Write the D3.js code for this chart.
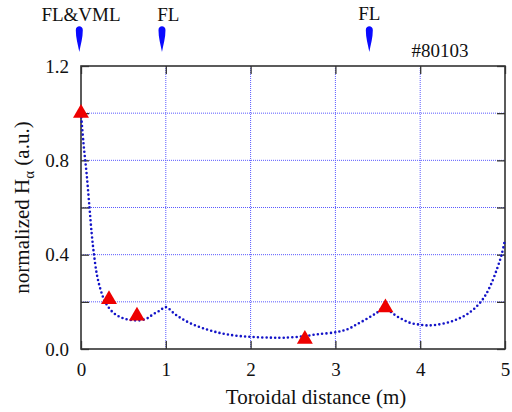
<!DOCTYPE html>
<html lang="en">
<head>
    <meta charset="UTF-8">
    <title>Normalized H-alpha vs toroidal distance</title>
    <style>
        body {
            margin: 0;
            background-color: #fff;
        }
    </style>
</head>
<body>
    <div id="chart"></div>
    <script src="https://d3js.org/d3.v7.min.js"></script>
    <script>
        // profile along the torus
        const curveX = [0, 0.03, 0.067, 0.1, 0.126, 0.15, 0.185, 0.22, 0.26, 0.3, 0.38, 0.46, 0.54, 0.62, 0.7, 0.78,
            0.85, 0.93, 1.0, 1.1, 1.2, 1.32, 1.44, 1.58, 1.72, 1.9, 2.07, 2.25, 2.39, 2.6, 2.78, 3.02, 3.15, 3.25,
            3.38, 3.49, 3.58, 3.65, 3.72, 3.8, 3.88, 3.98, 4.08, 4.2, 4.35, 4.45, 4.55, 4.65, 4.75, 4.83, 4.91, 4.96, 5.0];
        const curveY = [1.0, 0.87, 0.74, 0.6, 0.49, 0.41, 0.32, 0.265, 0.22, 0.19, 0.154, 0.136, 0.126, 0.122, 0.122, 0.13,
            0.147, 0.163, 0.178, 0.15, 0.126, 0.104, 0.088, 0.073, 0.062, 0.054, 0.05, 0.048, 0.048, 0.053, 0.062, 0.072, 0.085, 0.104,
            0.13, 0.154, 0.178, 0.158, 0.14, 0.124, 0.111, 0.104, 0.1, 0.103, 0.115, 0.128, 0.147, 0.175, 0.217, 0.27, 0.344, 0.4, 0.464];

        // measured points (red triangles)
        const measX = [0, 0.33, 0.66, 2.64, 3.59];
        const measY = [1.0, 0.21, 0.14, 0.042, 0.175];

        // markers above the frame
        const markerX = [-0.02, 0.955, 3.4];
        const markerLabelX = [0, 1.03, 3.4];
        const markerLabels = ["FL&VML", "FL", "FL"];

        const xTicks = [0, 1, 2, 3, 4, 5];
        const yTicks = [0, 0.2, 0.4, 0.6, 0.8, 1.0, 1.2];
        const yLabelTicks = [0, 0.4, 0.8, 1.2];
        const shotLabel = "#80103";

        const width = 512, height = 412;
        const margin = { left: 81, right: 7, top: 66, bottom: 63 };
        const serif = "Liberation Serif";

        const svg = d3.select('#chart')
            .append('svg')
            .attr('width', width)
            .attr('height', height)
            .attr('font-family', serif);

        const x = d3.scaleLinear().domain([0, 5]).range([margin.left, width - margin.right]);
        const y = d3.scaleLinear().domain([0, 1.2]).range([height - margin.bottom, margin.top]);

        // grid lines
        const grid = svg.append('g')
            .attr('stroke', '#5a5aff')
            .attr('stroke-width', 1)
            .attr('stroke-dasharray', '1 1');
        grid.selectAll('.gx')
            .data(xTicks.slice(1, -1))
            .enter().append('line')
            .attr('x1', d => x(d)).attr('x2', d => x(d))
            .attr('y1', y(0)).attr('y2', y(1.2));
        grid.selectAll('.gy')
            .data(yTicks.slice(1, -1))
            .enter().append('line')
            .attr('x1', x(0)).attr('x2', x(5))
            .attr('y1', d => y(d)).attr('y2', d => y(d));

        // axes with inward ticks
        const tickLen = 8;
        const axisStyle = g => {
            g.attr('font-family', serif).attr('font-size', 19);
            g.select('.domain').remove();
            g.selectAll('line').attr('stroke', '#333').attr('stroke-width', 1.3);
            g.selectAll('text').attr('fill', '#111');
        };
        svg.append('g')
            .attr('transform', `translate(0,${y(0)})`)
            .call(d3.axisBottom(x).tickValues(xTicks).tickFormat(d3.format('d')).tickSizeInner(-tickLen).tickPadding(14))
            .call(axisStyle);
        svg.append('g')
            .attr('transform', `translate(0,${y(1.2)})`)
            .call(d3.axisTop(x).tickValues(xTicks).tickFormat('').tickSizeInner(-tickLen))
            .call(axisStyle);
        svg.append('g')
            .attr('transform', `translate(${x(0)},0)`)
            .call(d3.axisLeft(y).tickValues(yTicks).tickFormat(d => yLabelTicks.includes(d) ? d3.format('.1f')(d) : '')
                .tickSizeInner(-tickLen).tickPadding(12))
            .call(axisStyle);
        svg.append('g')
            .attr('transform', `translate(${x(5)},0)`)
            .call(d3.axisRight(y).tickValues(yTicks).tickFormat('').tickSizeInner(-tickLen))
            .call(axisStyle);

        // frame
        svg.append('rect')
            .attr('x', x(0)).attr('y', y(1.2))
            .attr('width', x(5) - x(0)).attr('height', y(0) - y(1.2))
            .attr('fill', 'none')
            .attr('stroke', '#333')
            .attr('stroke-width', 1.6);

        // dotted profile
        const profile = curveX.map((d, i) => [d, curveY[i]]);
        svg.append('path')
            .datum(profile)
            .attr('fill', 'none')
            .attr('stroke', '#1414c8')
            .attr('stroke-width', 2.6)
            .attr('stroke-linecap', 'round')
            .attr('stroke-dasharray', '0 4.3')
            .attr('d', d3.line().x(d => x(d[0])).y(d => y(d[1])).curve(d3.curveCatmullRom.alpha(0.5)));

        // triangles
        svg.append('g')
            .selectAll('path')
            .data(measX.map((d, i) => [d, measY[i]]))
            .enter().append('path')
            .attr('transform', d => `translate(${x(d[0])},${y(d[1])})`)
            .attr('d', d3.symbol().type(d3.symbolTriangle).size(110))
            .attr('fill', '#ee0000');

        // blue teardrop markers above the plot
        const drop = 'M0,0 C-1.5,-8 -3.5,-14 -3.5,-22 C-3.5,-27 3.5,-27 3.5,-22 C3.5,-14 1.5,-8 0,0 Z';
        svg.append('g')
            .selectAll('path')
            .data(markerX)
            .enter().append('path')
            .attr('transform', d => `translate(${x(d)},52)`)
            .attr('d', drop)
            .attr('fill', '#0a0aff');

        svg.append('g')
            .attr('font-size', 19)
            .attr('fill', '#111')
            .selectAll('text')
            .data(markerLabels)
            .enter().append('text')
            .attr('x', (d, i) => x(markerLabelX[i]))
            .attr('y', (d, i) => i === 2 ? 20 : 21)
            .attr('text-anchor', 'middle')
            .text(d => d);

        svg.append('text')
            .attr('x', 440)
            .attr('y', 57)
            .attr('text-anchor', 'middle')
            .attr('font-size', 19)
            .attr('fill', '#111')
            .text(shotLabel);

        // axis titles
        svg.append('text')
            .attr('x', 316)
            .attr('y', 404)
            .attr('text-anchor', 'middle')
            .attr('font-size', 21)
            .attr('fill', '#111')
            .text('Toroidal distance (m)');

        const yTitle = svg.append('text')
            .attr('transform', `translate(29,${(y(0) + y(1.2)) / 2}) rotate(-90)`)
            .attr('text-anchor', 'middle')
            .attr('font-size', 21)
            .attr('fill', '#111');
        yTitle.append('tspan').text('normalized H');
        yTitle.append('tspan').attr('font-size', 15).attr('dy', 5).text('α');
        yTitle.append('tspan').attr('dy', -5).text(' (a.u.)');
    </script>
</body>
</html>
